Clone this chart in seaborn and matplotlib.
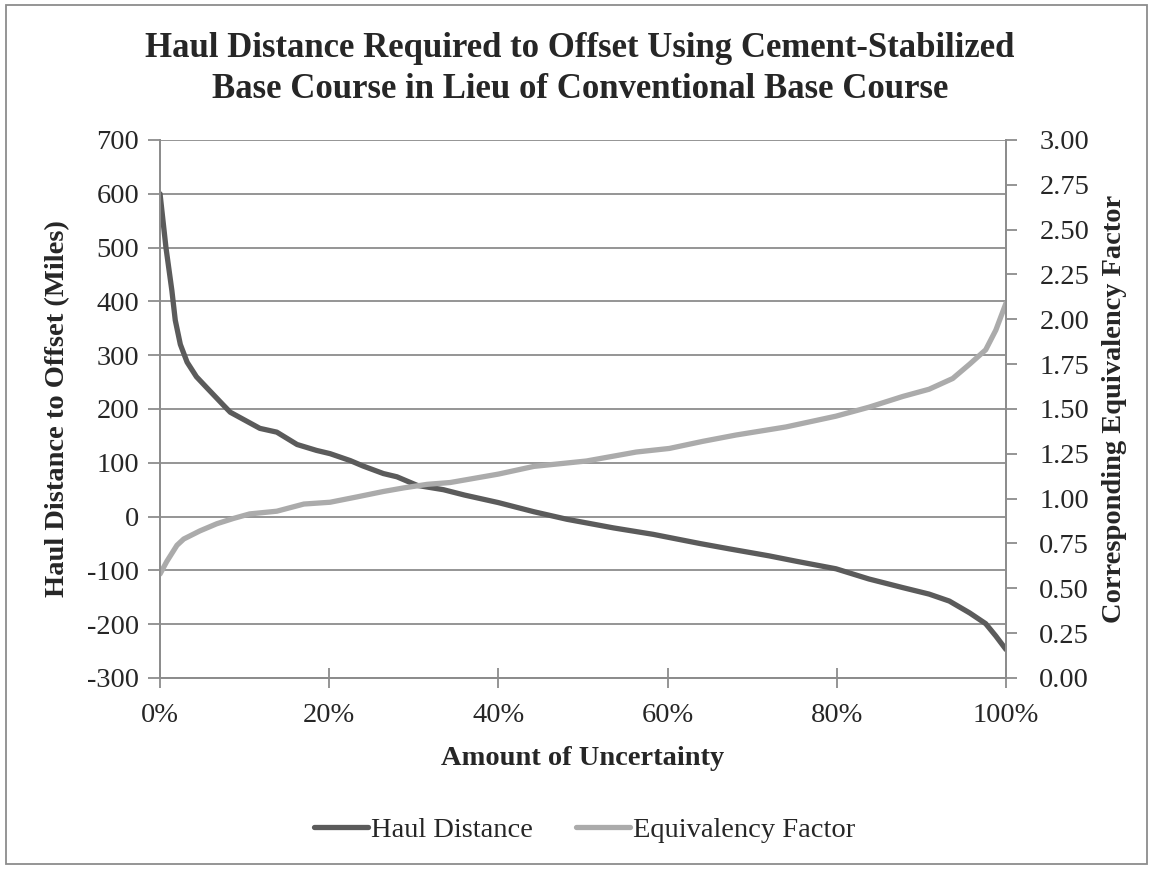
import numpy as np
import pandas as pd
import seaborn as sns
import matplotlib.pyplot as plt
from matplotlib.patches import Rectangle
from matplotlib.ticker import FuncFormatter

sns.set_theme(style="white")
plt.rcParams['font.family'] = ['Liberation Serif', 'DejaVu Serif']

# Haul distance (miles), x in percent uncertainty
haul_x = [0, 0.7, 1.4, 1.8, 2.4, 3.2, 4.3, 5.5, 7.5, 8.3, 11.8, 13.8, 16.2, 18.5, 20.1,
          22.5, 24, 26.4, 28, 30.4, 33.5, 36, 40, 44.2, 48.1, 53.6, 58.3, 63.8, 67.3,
          72, 75.2, 79.9, 83.8, 87.8, 90.9, 93.3, 95.7, 97.6, 98.8, 100]
haul_y = [600, 500, 420, 365, 320, 287, 260, 240, 207, 194, 164, 157, 134, 123, 117,
          104, 94, 80, 74, 58, 50, 40, 26, 9, -5, -21, -33, -50, -60,
          -73, -83, -97, -116, -132, -144, -157, -179, -199, -222, -247]

# Corresponding equivalency factor
equiv_x = [0, 0.8, 2, 2.8, 4.7, 6.7, 8.7, 10.6, 13.8, 17, 20.1, 23.3, 26.4, 28.8, 31.6,
           34.3, 40, 44.2, 50.4, 56.3, 60.2, 64.2, 68.1, 74, 79.9, 83.8, 87.8, 90.9,
           93.7, 95.7, 97.6, 98.8, 100]
equiv_y = [0.58, 0.65, 0.74, 0.775, 0.82, 0.86, 0.89, 0.915, 0.93, 0.97, 0.98, 1.01, 1.04,
           1.06, 1.08, 1.09, 1.137, 1.18, 1.21, 1.26, 1.28, 1.32, 1.355, 1.40, 1.46, 1.51,
           1.57, 1.61, 1.67, 1.75, 1.83, 1.94, 2.09]

haul = pd.DataFrame({"x": haul_x, "y": haul_y})
equiv = pd.DataFrame({"x": equiv_x, "y": equiv_y})

dark = "#5b5b5b"
light = "#ababab"
grid = "#8c8c8c"
fs = 20.5

fig = plt.figure(figsize=(11.53, 8.69), dpi=100)
ax = fig.add_axes([0.1388, 0.2198, 0.7337, 0.6191])
ax2 = ax.twinx()

sns.lineplot(data=haul, x="x", y="y", ax=ax, color=dark, linewidth=3.8, label="Haul Distance", legend=False)
sns.lineplot(data=equiv, x="x", y="y", ax=ax2, color=light, linewidth=3.8, label="Equivalency Factor", legend=False)

ax.set_xlim(0, 100)
ax.set_ylim(-300, 700)
ax.set_yticks(range(-300, 701, 100))
ax.set_xticks(range(0, 101, 20))
ax.xaxis.set_major_formatter(FuncFormatter(lambda v, p: f"{int(v)}%"))
ax.yaxis.set_major_formatter(FuncFormatter(lambda v, p: f"{int(v)}"))
ax2.set_ylim(0, 3)
ax2.set_yticks(np.arange(0, 3.01, 0.25))
ax2.yaxis.set_major_formatter(FuncFormatter(lambda v, p: f"{v:.2f}"))

ax.yaxis.grid(True, color=grid, linewidth=1.3)
ax.set_axisbelow(True)
for a in (ax, ax2):
    for s in a.spines.values():
        s.set_color(grid)
        s.set_linewidth(1.3)
    a.spines["top"].set_visible(False)

ax.tick_params(axis="y", direction="out", length=9, width=1.3, color=grid, labelsize=fs, pad=6, left=True)
ax.tick_params(axis="x", direction="inout", length=14, width=1.3, color=grid, labelsize=fs, pad=11, bottom=True)
ax2.tick_params(axis="y", direction="out", length=8, width=1.3, color=grid, labelsize=fs, pad=16, right=True)

ax.set_xlabel("Amount of Uncertainty", fontsize=fs, fontweight="bold", labelpad=13)
ax.set_ylabel("Haul Distance to Offset (Miles)", fontsize=fs, fontweight="bold", labelpad=12)
ax2.set_ylabel("Corresponding Equivalency Factor", fontsize=fs, fontweight="bold", labelpad=9, rotation=90)

fig.text(0.503, 0.934, "Haul Distance Required to Offset Using Cement-Stabilized",
         ha="center", va="baseline", fontsize=25, fontweight="bold")
fig.text(0.503, 0.887, "Base Course in Lieu of Conventional Base Course",
         ha="center", va="baseline", fontsize=25, fontweight="bold")

h1, l1 = ax.get_legend_handles_labels()
h2, l2 = ax2.get_legend_handles_labels()
fig.legend(h1 + h2, l1 + l2, loc="center", bbox_to_anchor=(0.507, 0.045), ncol=2, frameon=False,
           fontsize=fs, handlelength=1.9, handletextpad=0.1, columnspacing=1.5)

fig.patches.append(Rectangle((0.005, 0.006), 0.99, 0.988, transform=fig.transFigure,
                             fill=False, edgecolor=grid, linewidth=1.3))

fig.savefig("out.png", dpi=100)
